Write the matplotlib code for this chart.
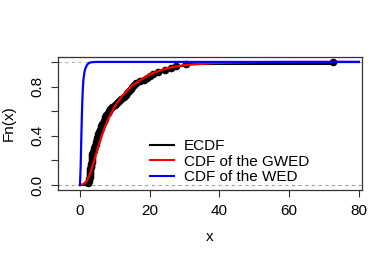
import matplotlib
matplotlib.use("Agg")
import matplotlib.pyplot as plt
import numpy as np
from matplotlib.lines import Line2D

plt.rcParams['font.family'] = ['Liberation Sans', 'DejaVu Sans']

obs = [2.4, 2.6, 2.7, 2.8, 2.85, 2.9, 2.95, 3.0, 3.1, 3.2, 3.3, 3.35, 3.4, 3.4, 3.45,
       3.5, 3.7, 3.9, 4.1, 4.3, 4.5, 4.6, 4.8, 4.9, 5.1, 5.3, 5.5, 5.7, 5.9, 6.1,
       6.3, 6.5, 6.8, 7.1, 7.3, 7.6, 7.9, 8.3, 8.7, 9.3, 10.0, 10.6, 11.3, 11.9, 12.5,
       13.1, 13.6, 14.0, 14.5, 15.0, 15.4, 16.2, 17.2, 18.5, 19.3, 20.2, 21.0, 22.5,
       24.5, 26.0, 27.5, 30.3, 72.5]

# fitted CDF of the GWED
gwed_x = [0, 1, 2, 3, 4, 5, 6, 7, 8, 10, 12, 15, 20, 25, 30, 40, 50, 60, 80]
gwed_y = [0, 0.008, 0.035, 0.10, 0.19, 0.29, 0.38, 0.46, 0.53, 0.64, 0.72, 0.81, 0.90, 0.95, 0.975, 0.993, 0.998, 1.0, 1.0]

# fitted CDF of the WED
wed_x = [0, 0.2, 0.4, 0.6, 0.8, 1.0, 1.3, 1.6, 2.0, 2.5, 3.0, 4.0, 5.0, 80]
wed_y = [0, 0.15, 0.40, 0.62, 0.77, 0.86, 0.92, 0.95, 0.975, 0.99, 0.996, 0.999, 1.0, 1.0]

legend_labels = ['ECDF', 'CDF of the GWED', 'CDF of the WED']

fig = plt.figure(figsize=(3.92, 2.62), dpi=100)
ax = fig.add_axes([58/392, 1-190/262, (362-58)/392, (190-57)/262])

ax.set_xlim(-6.3, 80.9)
ax.set_ylim(-0.04, 1.04)

ax.axhline(0, color='#a0a0a0', lw=0.8, ls=(0, (3, 3)), zorder=1)
ax.axhline(1, color='#b3b3b3', lw=0.8, ls=(0, (3, 3)), zorder=1)

n = len(obs)
xs = np.array(obs)
ys = np.arange(1, n + 1) / n
stx = np.concatenate([[0], xs, [80]])
sty = np.concatenate([[0], ys, [1]])
ax.step(stx, sty, where='post', color='black', lw=1.5, zorder=2)
ax.plot(xs, ys, 'o', color='black', ms=4.5, zorder=3)

ax.plot(gwed_x, gwed_y, color='red', lw=1.6, zorder=4)
ax.plot(wed_x, wed_y, color='blue', lw=1.6, zorder=4)

ax.set_xticks([0, 20, 40, 60, 80])
ax.set_yticks([0.0, 0.2, 0.4, 0.6, 0.8, 1.0])
ax.set_yticklabels(['0.0', '', '0.4', '', '0.8', ''])
ax.tick_params(axis='x', labelsize=11, length=5, width=0.8, color='#333333', pad=5)
ax.tick_params(axis='y', labelsize=11, length=5, width=0.8, color='#333333', pad=5)
for lab in ax.get_yticklabels():
    lab.set_rotation(90)
    lab.set_va('center')
ax.set_xlabel('x', fontsize=11, labelpad=9)
ax.set_ylabel('Fn(x)', fontsize=11, labelpad=10)
for s in ax.spines.values():
    s.set_color('#333333')
    s.set_linewidth(0.9)

handles = [Line2D([], [], color='black', lw=1.5),
           Line2D([], [], color='red', lw=1.5),
           Line2D([], [], color='blue', lw=1.5)]
fig.legend(handles, legend_labels,
           loc='upper left', bbox_to_anchor=(150/392, 1-139/262),
           frameon=False, fontsize=11, handlelength=1.6, handletextpad=0.6,
           labelspacing=0.1, borderpad=0, borderaxespad=0)

fig.savefig('out.png', dpi=100)
